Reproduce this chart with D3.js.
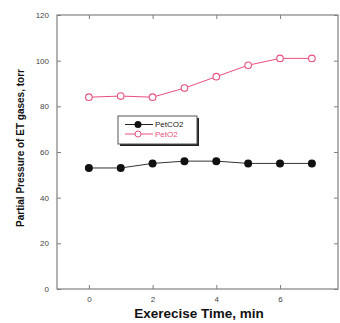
<!DOCTYPE html>
<html><head><meta charset="utf-8">
<script src="https://cdn.jsdelivr.net/npm/d3@7"></script>
<style>body{margin:0;background:#fff}svg{display:block}</style>
</head><body>
<svg id="c" width="340" height="323"></svg>
<script>
const times = [0,1,2,3,4,5,6,7];
const petCO2 = [53,53,55,56,56,55,55,55];
const petO2 = [84,84.5,84,88,93,98,101,101];
const xTicks = [0,2,4,6];
const yTicks = [0,20,40,60,80,100,120];
const seriesNames = ["PetCO2","PetO2"];

const svg = d3.select("#c");
const L=57,R=338,T=15,B=289;
const x = d3.scaleLinear().domain([-1,7.82]).range([L,R]);
const y = d3.scaleLinear().domain([0,120]).range([B,T]);
const frame="#808080", pink="#e8507c";

svg.append("rect").attr("x",L).attr("y",T).attr("width",R-L).attr("height",B-T)
  .attr("fill","none").attr("stroke",frame).attr("stroke-width",1.2);

const axB = d3.axisBottom(x).tickValues(xTicks).tickSize(-4).tickPadding(7).tickFormat(d3.format("d"));
const gB = svg.append("g").attr("transform",`translate(0,${B})`).call(axB);
const axL = d3.axisLeft(y).tickValues(yTicks).tickSize(-4).tickPadding(8);
const gL = svg.append("g").attr("transform",`translate(${L},0)`).call(axL);
const gT = svg.append("g").attr("transform",`translate(0,${T})`).call(d3.axisTop(x).tickValues(xTicks).tickSize(-4).tickFormat(""));
const gR = svg.append("g").attr("transform",`translate(${R},0)`).call(d3.axisRight(y).tickValues(yTicks).tickSize(-4).tickFormat(""));
[gB,gL,gT,gR].forEach(g=>{
  g.select(".domain").remove();
  g.selectAll("line").attr("stroke",frame);
  g.selectAll("text").attr("font-family","Liberation Sans, Arial").attr("font-size",8).attr("fill","#444");
});

const line = d3.line().x((d,i)=>x(times[i])).y(d=>y(d));
svg.append("path").datum(petCO2).attr("d",line).attr("fill","none").attr("stroke","#333").attr("stroke-width",1);
svg.append("path").datum(petO2).attr("d",line).attr("fill","none").attr("stroke",pink).attr("stroke-width",1);
svg.selectAll(".co2").data(petCO2).enter().append("circle")
  .attr("cx",(d,i)=>x(times[i])).attr("cy",d=>y(d)).attr("r",4).attr("fill","#111");
svg.selectAll(".o2").data(petO2).enter().append("circle")
  .attr("cx",(d,i)=>x(times[i])).attr("cy",d=>y(d)).attr("r",3.3).attr("fill","#fff").attr("stroke",pink).attr("stroke-width",1.1);

// legend
const lg = svg.append("g");
lg.append("rect").attr("x",120).attr("y",118).attr("width",79).attr("height",28).attr("fill","#222");
lg.append("rect").attr("x",118).attr("y",116).attr("width",79).attr("height",28).attr("fill","#fff").attr("stroke","#555").attr("stroke-width",1);
const rows=[{n:seriesNames[0],c:"#222",filled:true,y:124.5},{n:seriesNames[1],c:pink,filled:false,y:134}];
rows.forEach(r=>{
  lg.append("line").attr("x1",125).attr("x2",153).attr("y1",r.y).attr("y2",r.y).attr("stroke",r.c).attr("stroke-width",1);
  lg.append("circle").attr("cx",138).attr("cy",r.y).attr("r",r.filled?3.5:3)
    .attr("fill",r.filled?"#111":"#fff").attr("stroke",r.filled?"none":pink);
  lg.append("text").attr("x",155).attr("y",r.y+2.8).text(r.n)
    .attr("font-family","Liberation Sans, Arial").attr("font-size",8).attr("fill",r.c);
});

svg.append("text").attr("x",199).attr("y",318).attr("text-anchor","middle")
  .attr("font-family","Liberation Sans, Arial").attr("font-weight","bold").attr("font-size",13.5).attr("fill","#111")
  .text("Exerecise Time, min");
svg.append("text").attr("transform","translate(24,148) rotate(-90)").attr("text-anchor","middle")
  .attr("font-family","Liberation Sans, Arial").attr("font-weight","bold").attr("font-size",10).attr("fill","#111")
  .text("Partial Pressure of ET gases, torr");
</script>
</body></html>
